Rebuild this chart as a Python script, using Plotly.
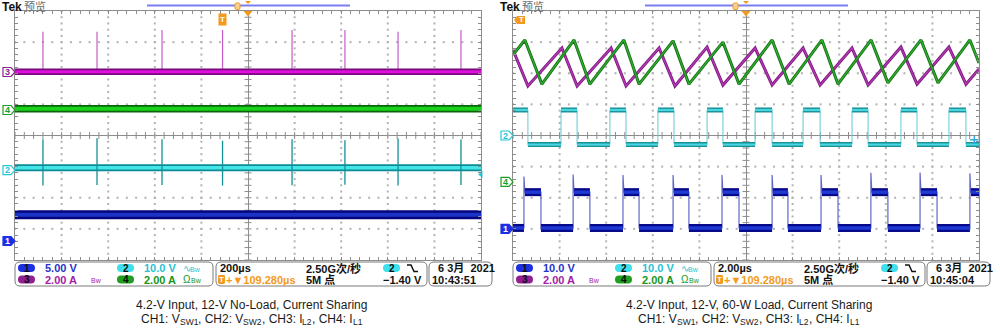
import plotly.graph_objects as go

W, H = 1000, 333

# ---------------- Capture A: 4.2 V in, 12 V out, no load (200 us/div) ----------------
a_t_div = 200.0                       # us per division
a_ch3_level = 2.05                    # I_L2 trace position, divisions
a_ch4_level = 0.86                    # I_L1
a_ch2_level = -1.04                   # V_SW2
a_ch1_level = -2.55                   # V_SW1
a_burst_t = [-880, -648, -369, -109.28, 189, 416, 644, 914]          # us
a_ch3_peak = [3.33, 3.33, 3.39, 3.39, 3.39, 3.39, 3.33, 3.39]
a_ch2_peak_hi = [-0.12, -0.09, -0.12, -0.17, -0.12, -0.15, -0.10, -0.13]
a_ch2_peak_lo = [-1.61, -1.59, -1.59, -1.61, -1.60, -1.58, -1.61, -1.59]
a_ground = {"1": -3.39, "2": -1.11, "3": 2.04, "4": 0.82}

# ---------------- Capture B: 4.2 V in, 12 V out, 60 W load (2 us/div) ----------------
b_t_div = 2.0
b_ch3_t = [-10.0, -9.36, -7.90, -7.25, -5.79, -5.15, -3.73, -3.05, -1.67, -0.99, 0.39,
           1.12, 2.45, 3.18, 4.55, 5.24, 6.65, 7.34, 8.71, 9.44, 10.0]
b_ch3_v = [2.75, 1.59, 2.81, 1.59, 2.81, 1.59, 2.81, 1.59, 2.84, 1.62, 2.81,
           1.62, 2.81, 1.62, 2.81, 1.62, 2.84, 1.65, 2.84, 1.65, 2.14]
b_ch4_t = [-10.0, -9.49, -8.76, -7.38, -6.70, -5.24, -4.59, -3.13, -2.45, -0.99, -0.30,
           1.12, 1.85, 3.26, 3.95, 5.37, 6.09, 7.51, 8.24, 9.61, 10.0]
b_ch4_v = [2.59, 3.07, 1.65, 3.07, 1.65, 3.07, 1.65, 3.04, 1.65, 3.00, 1.65,
           3.07, 1.65, 3.07, 1.65, 3.07, 1.69, 3.07, 1.69, 3.07, 2.33]
b_ch2_rise = [-10.0, -7.94, -5.84, -3.78, -1.67, 0.39, 2.45, 4.55, 6.65, 8.71]
b_ch2_fall = [-9.36, -7.25, -5.15, -3.09, -0.99, 1.12, 3.18, 5.24, 7.34, 9.44]
b_ch2_high, b_ch2_low = 0.82, -0.29
b_ch1_rise = [-9.53, -7.42, -5.28, -3.13, -1.03, 1.12, 3.22, 5.36, 7.47, 9.61]
b_ch1_fall = [-8.80, -6.70, -4.59, -2.45, -0.30, 1.80, 3.95, 6.09, 8.20, 10.0]
b_ch1_peak = [-1.32, -1.25, -1.27, -1.27, -1.27, -1.27, -1.27, -1.20, -1.19, -1.21]
b_ch1_high, b_ch1_low = -1.82, -2.97
b_ground = {"1": -3.0, "2": 0.0, "4": -1.49}

# ---------------- Readouts ----------------
trig_level_v, trig_ch2_scale = -1.40, 10.0
a_readout = {"1": "5.00 V", "2": "10.0 V", "3": "2.00 A", "4": "2.00 A",
             "time": "200µs", "date": "6 3月  2021", "clock": "10:43:51"}
b_readout = {"1": "10.0 V", "2": "10.0 V", "3": "2.00 A", "4": "2.00 A",
             "time": "2.00µs", "date": "6 3月  2021", "clock": "10:45:04"}
common_readout = {"rate": "2.50G次/秒", "points": "5M 点", "delay": "+▼109.280µs",
                  "trig": "−1.40 V"}
a_caption = "4.2-V Input, 12-V No-Load, Current Sharing"
b_caption = "4.2-V Input, 12-V, 60-W Load, Current Sharing"
# probe legend: (main text, subscript) pieces
probe_legend = [("CH1: V", "SW1"), (", CH2: V", "SW2"), (", CH3: I", "L2"), (", CH4: I", "L1")]

CH_COLOR = {"1": "#1f33c9", "2": "#26c3d3", "3": "#a321a8", "4": "#17961a"}
PILL_COLOR = {"1": "#1d2fe3", "2": "#3fe0ee", "3": "#8f1f92", "4": "#1f9e20"}
ORANGE = "#f39a1e"
GRID = "#8c8c8c"
SANS = "Liberation Sans, Noto Sans CJK SC, sans-serif"

# Arial / Liberation Sans advance widths (em) for the caption glyphs
ADV = {"C": 0.722, "H": 0.722, "1": 0.556, "2": 0.556, "3": 0.556, "4": 0.556, ":": 0.278,
       " ": 0.278, "V": 0.667, ",": 0.278, "I": 0.278, "S": 0.667, "W": 0.944, "L": 0.556}

fig = go.Figure()
shapes, annotations = [], []


def px(x):
    return x / W


def py(y):
    return 1 - y / H


def pt(x, y):
    return f"{px(x):.5f},{py(y):.5f}"


def rounded_rect(x0, y0, x1, y1, r):
    return ("M" + pt(x0 + r, y0) + " L" + pt(x1 - r, y0) + " Q" + pt(x1, y0) + " " + pt(x1, y0 + r) +
            " L" + pt(x1, y1 - r) + " Q" + pt(x1, y1) + " " + pt(x1 - r, y1) +
            " L" + pt(x0 + r, y1) + " Q" + pt(x0, y1) + " " + pt(x0, y1 - r) +
            " L" + pt(x0, y0 + r) + " Q" + pt(x0, y0) + " " + pt(x0 + r, y0) + " Z")


def line_trace(xa, ya, x, y, color, width):
    fig.add_trace(go.Scatter(x=x, y=y, xaxis=xa, yaxis=ya, mode="lines",
                             line=dict(color=color, width=width), hoverinfo="skip",
                             showlegend=False))


def band(xa, ya, x, y, outer, inner, w_out, w_in):
    line_trace(xa, ya, x, y, outer, w_out)
    line_trace(xa, ya, x, y, inner, w_in)


def pulse_train(rises, falls, hi, lo, x0, x1, peaks=None, settle=0.0):
    path_x, path_y, hx, hy, lx, ly = [], [], [], [], [], []
    cur = x0
    for i, (r, f) in enumerate(zip(rises, falls)):
        if r > cur:
            path_x += [cur, r]
            path_y += [lo, lo]
            lx += [cur, r, None]
            ly += [lo, lo, None]
            if peaks is not None:
                path_x += [r, r + settle]
                path_y += [peaks[i], hi]
            else:
                path_x += [r]
                path_y += [hi]
        else:
            path_x += [cur]
            path_y += [hi]
        end = min(f, x1)
        hx += [max(r, x0) + (settle if peaks is not None and r > x0 else 0), end, None]
        hy += [hi, hi, None]
        path_x += [end]
        path_y += [hi]
        if f < x1:
            path_x += [f]
            path_y += [lo]
        cur = end
    if cur < x1:
        path_x += [x1]
        path_y += [lo]
        lx += [cur, x1, None]
        ly += [lo, lo, None]
    return path_x, path_y, hx, hy, lx, ly


def graticule(xa, ya, tdiv):
    gx, gy = [], []
    for k in (-4, -3, -2, -1, 1, 2, 3, 4):
        for j in range(-20, 21):
            gx.append(k * tdiv)
            gy.append(j / 5)
    for k in (-3, -2, -1, 1, 2, 3):
        for i in range(-25, 26):
            gx.append(i * tdiv / 5)
            gy.append(k)
    fig.add_trace(go.Scatter(x=gx, y=gy, xaxis=xa, yaxis=ya, mode="markers",
                             marker=dict(symbol="square", size=2, color="#b2b2b2", line_width=0),
                             hoverinfo="skip", showlegend=False))
    cx = [i * tdiv / 5 for i in range(-25, 26)]
    fig.add_trace(go.Scatter(x=cx, y=[0] * len(cx), xaxis=xa, yaxis=ya, mode="markers",
                             marker=dict(symbol="line-ns", size=5, line=dict(color=GRID, width=1)),
                             hoverinfo="skip", showlegend=False))
    cy = [j / 5 for j in range(-20, 21)]
    fig.add_trace(go.Scatter(x=[0] * len(cy), y=cy, xaxis=xa, yaxis=ya, mode="markers",
                             marker=dict(symbol="line-ew", size=5, line=dict(color=GRID, width=1)),
                             hoverinfo="skip", showlegend=False))


def text(x, y, s, color="#111111", size=11, bold=True, anchor="left", family=SANS):
    annotations.append(dict(xref="paper", yref="paper", x=px(x), y=py(y), text=s,
                            showarrow=False, xanchor=anchor, yanchor="middle", borderpad=0,
                            borderwidth=0,
                            font=dict(family=family, size=size, color=color,
                                      weight="bold" if bold else "normal")))


def text_width(s, size):
    return sum(ADV[c] for c in s) * size


def legend_line(cx, y, size=12, sub_size=8.5):
    total = sum(text_width(m, size) + text_width(s, sub_size) for m, s in probe_legend)
    x = cx - total / 2
    for m, s in probe_legend:
        text(x, y, m, "#1a1a1a", size=size, bold=False)
        x += text_width(m, size)
        text(x, y + 3, s, "#1a1a1a", size=sub_size, bold=False)
        x += text_width(s, sub_size)


def channel_tag(ch, level, ya, gx, filled):
    col = PILL_COLOR[ch] if ch != "2" else "#27c6d6"
    shapes.append(dict(type="path", xref="paper", yref=ya, xsizemode="pixel", ysizemode="pixel",
                       xanchor=px(gx), yanchor=level,
                       path="M -12,-4.5 L -4,-4.5 L 0,0 L -4,4.5 L -12,4.5 Z",
                       fillcolor=col if filled else "white", line=dict(color=col, width=1.2)))
    annotations.append(dict(xref="paper", yref=ya, x=px(gx - 7.5), y=level, text=ch,
                            showarrow=False, xanchor="center", yanchor="middle",
                            font=dict(family=SANS, size=9, color="white" if filled else col,
                                      weight="bold")))


def pill(x0, yc, ch):
    shapes.append(dict(type="path", xref="paper", yref="paper",
                       path=rounded_rect(x0, yc - 4, x0 + 17, yc + 4, 4),
                       fillcolor=PILL_COLOR[ch], line=dict(width=0)))
    text(x0 + 8.5, yc, ch, color="#0d0d0d", size=10, anchor="center")


def panel_frame(ox, xa, ya, tdiv, readout, caption, cap_x):
    # header
    text(2 + ox, 7, "Tek", "#111111", size=12)
    text(24 + ox, 7, "预览", "#6a6a6a", size=11, bold=False)
    shapes.append(dict(type="line", xref="paper", yref="paper", x0=px(147 + ox), x1=px(350 + ox),
                       y0=py(5.5), y1=py(5.5), line=dict(color="#7c7cf2", width=2)))
    shapes.append(dict(type="path", xref="paper", yref="paper",
                       path=rounded_rect(235 + ox, 3, 240 + ox, 9.5, 1.5),
                       fillcolor="#fcd089", line=dict(color=ORANGE, width=1)))
    shapes.append(dict(type="path", xref="paper", yref="paper",
                       path="M" + pt(245 + ox, 1) + " L" + pt(251 + ox, 1) + " L" + pt(248 + ox, 4) + " Z",
                       fillcolor=ORANGE, line=dict(width=0)))
    shapes.append(dict(type="path", xref="paper", yref="paper",
                       path="M" + pt(243.5 + ox, 11) + " L" + pt(252.5 + ox, 11) + " L" + pt(248 + ox, 16.5) + " Z",
                       fillcolor=ORANGE, line=dict(width=0)))
    # status boxes
    for (x0, x1) in ((15, 213), (216, 427), (429, 492)):
        shapes.append(dict(type="path", xref="paper", yref="paper",
                           path=rounded_rect(x0 + ox, 262, x1 + ox, 286, 5),
                           fillcolor="rgba(0,0,0,0)", line=dict(color="#7b7b7b", width=1)))
    r1, r2 = 268, 279.5
    pill(18 + ox, r1, "1")
    pill(117 + ox, r1, "2")
    pill(18 + ox, r2, "3")
    pill(117 + ox, r2, "4")
    text(45 + ox, r1, readout["1"], CH_COLOR["1"])
    text(144 + ox, r1, readout["2"], CH_COLOR["2"])
    text(45 + ox, r2, readout["3"], CH_COLOR["3"])
    text(144 + ox, r2, readout["4"], CH_COLOR["4"])
    text(183 + ox, r1, "∿", CH_COLOR["2"], size=10, bold=False)
    text(190 + ox, r1 + 1, "Bw", CH_COLOR["2"], size=7, bold=False)
    text(91 + ox, r2 + 1, "Bw", CH_COLOR["3"], size=7, bold=False)
    text(183 + ox, r2, "Ω", CH_COLOR["4"], size=10, bold=False)
    text(191 + ox, r2 + 1, "Bw", CH_COLOR["4"], size=7, bold=False)
    text(220 + ox, r1, readout["time"])
    shapes.append(dict(type="path", xref="paper", yref="paper",
                       path=rounded_rect(218 + ox, r2 - 4.5, 225 + ox, r2 + 4.5, 1.5),
                       fillcolor=ORANGE, line=dict(width=0)))
    text(221.5 + ox, r2, "T", "white", size=8, anchor="center")
    text(226 + ox, r2, common_readout["delay"], ORANGE)
    text(306 + ox, r1, common_readout["rate"])
    text(306 + ox, r2, common_readout["points"])
    pill(383 + ox, r1, "2")
    shapes.append(dict(type="path", xref="paper", yref="paper",
                       path="M" + pt(407 + ox, 265) + " L" + pt(411 + ox, 265) + " L" + pt(414 + ox, 271.5)
                       + " L" + pt(418 + ox, 271.5),
                       line=dict(color="#111111", width=1.5)))
    text(383 + ox, r2, common_readout["trig"])
    text(438 + ox, r1, readout["date"])
    text(432 + ox, r2, readout["clock"])
    # caption
    text(cap_x, 305, caption, "#1a1a1a", size=12, bold=False, anchor="center")
    legend_line(cap_x, 318.5)
    graticule(xa, ya, tdiv)


# ---------------- Capture A ----------------
panel_frame(0, "x", "y", a_t_div, a_readout, a_caption, 251.5)
xa0, xa1 = -5 * a_t_div, 5 * a_t_div
sx, sy = [], []
for t, top in zip(a_burst_t, a_ch3_peak):
    sx += [t, t, None]
    sy += [a_ch3_level, top, None]
line_trace("x", "y", sx, sy, "#c65cc8", 1.2)
band("x", "y", [xa0, xa1], [a_ch3_level] * 2, "#7c067e", "#dc12dc", 6.5, 3)
band("x", "y", [xa0, xa1], [a_ch4_level] * 2, "#0b650c", "#1bd21b", 7.5, 4)
band("x", "y", [xa0, xa1], [a_ch2_level] * 2, "#0b8c92", "#45e6ea", 7, 3.5)
sx, sy = [], []
for t, hi, lo in zip(a_burst_t, a_ch2_peak_hi, a_ch2_peak_lo):
    sx += [t, t, None]
    sy += [hi, lo, None]
line_trace("x", "y", sx, sy, "#138f96", 1.3)
band("x", "y", [xa0, xa1], [a_ch1_level] * 2, "#04047e", "#1b34c6", 9, 4)
for ch in ("3", "4", "2", "1"):
    channel_tag(ch, a_ground[ch], "y", 15, ch == "1")
fig.add_trace(go.Scatter(x=[xa1], y=[a_ground["2"] + trig_level_v / trig_ch2_scale], xaxis="x", yaxis="y",
                         mode="markers", cliponaxis=False, hoverinfo="skip", showlegend=False,
                         marker=dict(symbol="triangle-left", size=6, color="#2fc9d8")))
annotations.append(dict(xref="x", yref="y", x=a_burst_t[3], y=3.72, text="T", showarrow=False,
                        bgcolor=ORANGE, borderpad=1, xanchor="center", yanchor="middle",
                        font=dict(family=SANS, size=8, color="white", weight="bold")))

# ---------------- Capture B ----------------
OX = 498
panel_frame(OX, "x2", "y2", b_t_div, b_readout, b_caption, 748.5)
xb0, xb1 = -5 * b_t_div, 5 * b_t_div
band("x2", "y2", b_ch3_t, b_ch3_v, "#80187f", "#b03ab2", 3.0, 1.3)
band("x2", "y2", b_ch4_t, b_ch4_v, "#167016", "#2fae2f", 3.0, 1.3)
p = pulse_train(b_ch2_rise, b_ch2_fall, b_ch2_high, b_ch2_low, xb0, xb1)
line_trace("x2", "y2", p[0], p[1], "#62c9d2", 1)
band("x2", "y2", p[2], p[3], "#178f96", "#4ad6de", 5, 2.2)
band("x2", "y2", p[4], p[5], "#178f96", "#4ad6de", 5, 2.2)
p = pulse_train(b_ch1_rise, b_ch1_fall, b_ch1_high, b_ch1_low, xb0, xb1, peaks=b_ch1_peak, settle=0.04)
line_trace("x2", "y2", p[0], p[1], "#6268c6", 1.2)
band("x2", "y2", p[2], p[3], "#05098a", "#1f3ad2", 8, 3.5)
band("x2", "y2", p[4], p[5], "#05098a", "#1f3ad2", 8, 3.5)
for ch in ("2", "4", "1"):
    channel_tag(ch, b_ground[ch], "y2", 513, ch == "1")
fig.add_trace(go.Scatter(x=[xb1 - 0.2], y=[b_ground["2"] + trig_level_v / trig_ch2_scale], xaxis="x2",
                         yaxis="y2", mode="markers", cliponaxis=False, hoverinfo="skip", showlegend=False,
                         marker=dict(symbol="cross-thin", size=6, line=dict(color="#2fa6e0", width=1.5))))
shapes.append(dict(type="path", xref="paper", yref="paper",
                   path="M" + pt(514, 20) + " L" + pt(517, 16) + " L" + pt(525, 16) + " L" + pt(525, 24)
                   + " L" + pt(517, 24) + " Z", fillcolor=ORANGE, line=dict(width=0)))
text(521, 20, "T", "white", size=8, anchor="center")

# ---------------- Axes ----------------
axis_style = dict(showgrid=False, zeroline=True, zerolinecolor=GRID, zerolinewidth=1,
                  showline=True, linecolor=GRID, linewidth=1, mirror="ticks",
                  ticks="inside", ticklen=3, tickcolor=GRID, showticklabels=False,
                  tickmode="linear", tick0=0, fixedrange=True)
ydom = [py(260), py(11)]
fig.update_layout(
    width=W, height=H, autosize=False,
    margin=dict(l=0, r=0, t=0, b=0),
    paper_bgcolor="white", plot_bgcolor="white",
    xaxis=dict(domain=[px(15), px(481)], range=[xa0, xa1], dtick=a_t_div / 5, anchor="y", **axis_style),
    yaxis=dict(domain=ydom, range=[-4, 4], dtick=0.2, anchor="x", **axis_style),
    xaxis2=dict(domain=[px(513), px(979)], range=[xb0, xb1], dtick=b_t_div / 5, anchor="y2", **axis_style),
    yaxis2=dict(domain=ydom, range=[-4, 4], dtick=0.2, anchor="x2", **axis_style),
    shapes=shapes, annotations=annotations, showlegend=False,
)

fig.write_html("out.html")
